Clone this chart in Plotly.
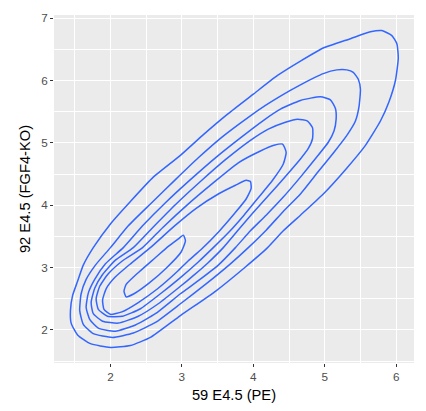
import plotly.graph_objects as go

# Density contour paths (x = 59 E4.5 (PE), y = 92 E4.5 (FGF4-KO)), outermost first
c1_x = [1.44, 1.47, 1.54, 1.62, 1.76, 2.00, 2.28, 2.60, 2.98, 3.29, 3.64, 4.00, 4.34, 4.66, 4.98, 5.36, 5.64, 5.80, 5.94, 6.01, 6.03,
        5.99, 5.90, 5.78, 5.57, 5.29, 4.98, 4.66, 4.42, 4.20, 3.89, 3.47, 2.98, 2.56, 2.28, 2.00, 1.72, 1.54, 1.45, 1.44]
c1_y = [2.31, 2.55, 2.78, 3.04, 3.32, 3.70, 4.06, 4.45, 4.80, 5.12, 5.46, 5.78, 6.08, 6.31, 6.52, 6.67, 6.78, 6.80, 6.72, 6.59, 6.36,
        6.00, 5.66, 5.35, 4.96, 4.57, 4.18, 3.84, 3.59, 3.32, 3.01, 2.62, 2.23, 1.88, 1.75, 1.72, 1.78, 1.92, 2.11, 2.31]

c2_x = [1.57, 1.59, 1.66, 1.79, 2.00, 2.25, 2.56, 2.91, 3.23, 3.57, 3.93, 4.17, 4.38, 4.66, 4.98, 5.17, 5.31, 5.40, 5.47, 5.50,
        5.48, 5.43, 5.31, 5.13, 4.91, 4.66, 4.42, 4.18, 3.93, 3.68, 3.33, 2.98, 2.63, 2.32, 2.03, 1.76, 1.62, 1.57]
c2_y = [2.31, 2.58, 2.81, 3.04, 3.32, 3.67, 4.02, 4.41, 4.76, 5.10, 5.41, 5.60, 5.75, 5.93, 6.11, 6.17, 6.17, 6.13, 6.02, 5.86,
        5.58, 5.35, 5.12, 4.85, 4.54, 4.18, 3.90, 3.60, 3.32, 3.06, 2.73, 2.42, 2.12, 1.95, 1.88, 1.94, 2.09, 2.31]

c3_x = [1.66, 1.69, 1.78, 1.93, 2.18, 2.45, 2.77, 3.12, 3.47, 3.82, 4.13, 4.38, 4.66, 4.94, 5.08, 5.15, 5.16,
        5.13, 5.05, 4.88, 4.66, 4.42, 4.18, 3.96, 3.75, 3.51, 3.23, 2.98, 2.63, 2.35, 2.07, 1.83, 1.71, 1.66]
c3_y = [2.36, 2.59, 2.81, 3.06, 3.32, 3.67, 4.04, 4.41, 4.76, 5.08, 5.35, 5.54, 5.68, 5.74, 5.69, 5.55, 5.38,
        5.19, 5.01, 4.76, 4.45, 4.13, 3.84, 3.59, 3.32, 3.04, 2.79, 2.58, 2.26, 2.08, 1.98, 2.03, 2.17, 2.36]

c4_x = [1.73, 1.78, 1.89, 2.07, 2.32, 2.59, 2.92, 3.26, 3.61, 3.96, 4.21, 4.45, 4.62, 4.76, 4.83, 4.83,
        4.77, 4.66, 4.45, 4.21, 3.99, 3.78, 3.58, 3.36, 3.16, 2.98, 2.67, 2.39, 2.11, 1.89, 1.76, 1.73]
c4_y = [2.44, 2.67, 2.89, 3.12, 3.32, 3.64, 4.02, 4.38, 4.73, 5.04, 5.22, 5.33, 5.38, 5.35, 5.24, 5.07,
        4.91, 4.74, 4.46, 4.15, 3.87, 3.59, 3.32, 3.07, 2.87, 2.70, 2.42, 2.22, 2.11, 2.14, 2.26, 2.44]

c5_x = [1.80, 1.85, 1.97, 2.17, 2.45, 2.73, 3.08, 3.43, 3.79, 4.10, 4.29, 4.41, 4.46,
        4.42, 4.27, 4.07, 3.87, 3.66, 3.44, 3.23, 2.98, 2.70, 2.42, 2.17, 1.96, 1.83, 1.80]
c5_y = [2.50, 2.70, 2.90, 3.11, 3.32, 3.64, 4.01, 4.35, 4.68, 4.87, 4.96, 4.98, 4.85,
        4.66, 4.40, 4.12, 3.84, 3.57, 3.32, 3.09, 2.84, 2.58, 2.34, 2.22, 2.22, 2.33, 2.50]

c6_x = [1.89, 1.94, 2.06, 2.27, 2.58, 2.89, 3.20, 3.51, 3.75, 3.90, 3.96, 3.97,
        3.90, 3.74, 3.52, 3.27, 3.09, 2.94, 2.66, 2.39, 2.16, 2.00, 1.91, 1.89]
c6_y = [2.48, 2.66, 2.84, 3.05, 3.34, 3.66, 3.95, 4.18, 4.32, 4.40, 4.38, 4.27,
        4.10, 3.87, 3.58, 3.29, 3.11, 2.94, 2.66, 2.44, 2.29, 2.25, 2.33, 2.48]

c7_x = [2.22, 2.40, 2.62, 2.81, 2.95, 3.02, 3.05, 2.99, 2.78, 2.54, 2.33, 2.22, 2.19, 2.22]
c7_y = [2.73, 2.93, 3.15, 3.34, 3.46, 3.52, 3.43, 3.25, 2.99, 2.75, 2.58, 2.53, 2.62, 2.73]

contours = [(c1_x, c1_y), (c2_x, c2_y), (c3_x, c3_y), (c4_x, c4_y),
            (c5_x, c5_y), (c6_x, c6_y), (c7_x, c7_y)]

x_ticks = [2, 3, 4, 5, 6]
y_ticks = [2, 3, 4, 5, 6, 7]

LINE_BLUE = "#3366FF"
PANEL = "#EBEBEB"

fig = go.Figure()
for cx, cy in contours:
    fig.add_trace(go.Scatter(
        x=cx, y=cy, mode="lines",
        line=dict(color=LINE_BLUE, width=1.5, shape="spline", smoothing=0.5),
        hoverinfo="skip", showlegend=False,
    ))

axis_common = dict(
    showgrid=True, gridcolor="white", gridwidth=1.1,
    zeroline=False, showline=False,
    ticks="outside", ticklen=3, tickwidth=1.1, tickcolor="#333333",
    tickfont=dict(family="Liberation Sans, Arial, sans-serif", size=11.7, color="#4D4D4D"),
    title_font=dict(family="Liberation Sans, Arial, sans-serif", size=14.7, color="black"),
)

fig.update_layout(
    width=426, height=411,
    margin=dict(l=54, r=12, t=11, b=42),
    paper_bgcolor="white", plot_bgcolor=PANEL,
    xaxis=dict(
        range=[1.21, 6.25], tickvals=x_ticks,
        title=dict(text="59 E4.5 (PE)", standoff=7),
        minor=dict(tick0=1.5, dtick=1, showgrid=True, gridcolor="white", gridwidth=0.55, ticks=""),
        **axis_common,
    ),
    yaxis=dict(
        range=[1.47, 7.05], tickvals=y_ticks,
        title=dict(text="92 E4.5 (FGF4-KO)", standoff=6),
        minor=dict(tick0=1.5, dtick=1, showgrid=True, gridcolor="white", gridwidth=0.55, ticks=""),
        **axis_common,
    ),
)

fig.write_html("out.html")
